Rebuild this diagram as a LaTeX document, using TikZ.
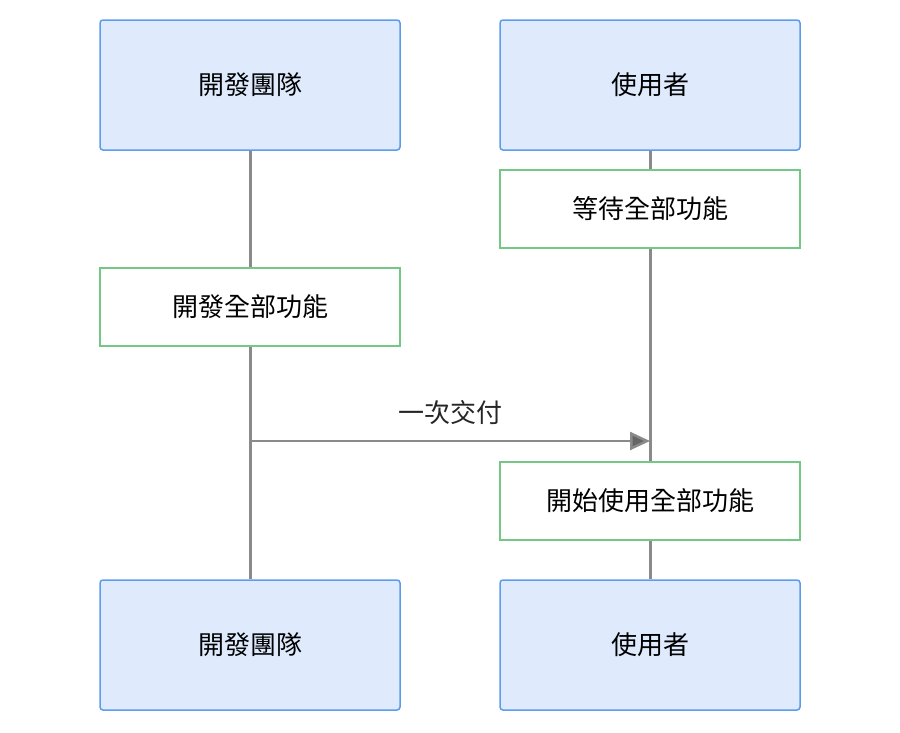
\documentclass[tikz,border=0pt]{standalone}
\usepackage{fontspec}
\setmainfont{Noto Sans CJK TC}
\usetikzlibrary{arrows.meta}
\definecolor{actorfill}{HTML}{DFEBFD}
\definecolor{actordraw}{HTML}{5C9CF0}
\definecolor{notedraw}{HTML}{74C886}
\definecolor{lifeline}{HTML}{8A8A8A}
\begin{document}
\begin{tikzpicture}[x=1pt,y=-1pt,
    actor/.style={rectangle, rounded corners=3pt, draw=actordraw, fill=actorfill, line width=1.5pt, minimum width=300pt, minimum height=130pt, font=\fontsize{26}{30}\selectfont},
    note/.style={rectangle, draw=notedraw, fill=white, line width=1.5pt, minimum width=300pt, minimum height=78pt, font=\fontsize{26}{30}\selectfont},
    life/.style={draw=lifeline, line width=3pt}]
        \useasboundingbox (0,0) rectangle (900,732);

        % actors
        \node[actor] (devtop) at (250,85) {開發團隊};
        \node[actor] (usertop) at (650,85) {使用者};
        \node[actor] (devbot) at (250,645) {開發團隊};
        \node[actor] (userbot) at (650,645) {使用者};

        % lifelines
        \draw[life] (devtop) -- (devbot);
        \draw[life] (usertop) -- (userbot);

        % notes
        \node[note] (wait) at (650,209) {等待全部功能};
        \node[note] (build) at (250,307) {開發全部功能};
        \node[note] (use) at (650,501) {開始使用全部功能};

        % message
        \coordinate (from) at (250,441);
        \coordinate (to) at (650,441);
        \draw[draw=lifeline, line width=2.5pt, -{Triangle[length=20pt,width=18pt,fill=gray!80!black]}] (from) -- node[above=12pt, font=\fontsize{26}{30}\selectfont, text=black!85] {一次交付} (to);
\end{tikzpicture}
\end{document}
